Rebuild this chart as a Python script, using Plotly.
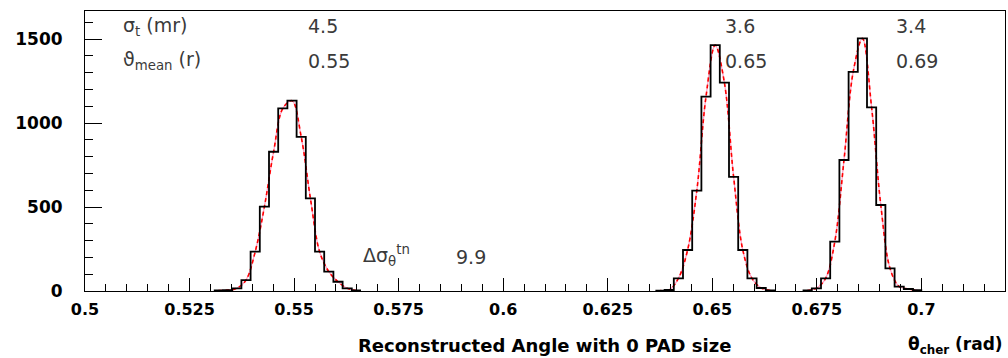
import plotly.graph_objects as go

# ---- data ----
BIN_LO = 0.5
BIN_W = 0.0022

peak1_first_bin = 14
peak1_counts = [3, 5, 16, 65, 234, 502, 829, 1087, 1133, 918, 552, 234, 115, 55, 16, 3]
peak2_first_bin = 62
peak2_counts = [2, 6, 75, 244, 597, 1157, 1464, 1240, 680, 244, 75, 18, 3]
peak3_first_bin = 78
peak3_counts = [3, 16, 75, 294, 780, 1305, 1504, 1093, 512, 135, 26, 12, 5]

sigma_labels = ["4.5", "3.6", "3.4"]
mean_labels = ["0.55", "0.65", "0.69"]
label_x = [0.5529, 0.6526, 0.6935]
delta_sigma_value = "9.9"

x_tick_vals = [0.5, 0.525, 0.55, 0.575, 0.6, 0.625, 0.65, 0.675, 0.7]
x_tick_text = ["0.5", "0.525", "0.55", "0.575", "0.6", "0.625", "0.65", "0.675", "0.7"]
y_tick_vals = [0, 500, 1000, 1500]
y_tick_text = ["0", "500", "1000", "1500"]

X_RANGE = [0.5, 0.72]
Y_RANGE = [0, 1667]

FONT = "DejaVu Sans"

fig = go.Figure()

for first, counts in [(peak1_first_bin, peak1_counts),
                      (peak2_first_bin, peak2_counts),
                      (peak3_first_bin, peak3_counts)]:
    edges = [BIN_LO + (first + i) * BIN_W for i in range(len(counts) + 1)]
    centers = [BIN_LO + (first + i + 0.5) * BIN_W for i in range(len(counts))]
    # fit curve (smooth through bin contents)
    fig.add_trace(go.Scatter(x=centers, y=counts, mode="lines",
                             line=dict(color="#ff9ec4", width=1.2, shape="spline"),
                             hoverinfo="skip", showlegend=False))
    fig.add_trace(go.Scatter(x=centers, y=counts, mode="lines",
                             line=dict(color="#ff0000", width=1.6, dash="4px,3px", shape="spline"),
                             hoverinfo="skip", showlegend=False))
    # histogram
    fig.add_trace(go.Scatter(x=edges, y=counts + [counts[-1]], mode="lines",
                             line=dict(color="black", width=1.8, shape="hv"),
                             showlegend=False))

ann = []
txt_font = dict(family=FONT, size=19, color="#3a3a3a")
ann.append(dict(x=0.5086, y=1575, xref="x", yref="y", text="σ<sub>t</sub> (mr)",
                showarrow=False, xanchor="left", yanchor="middle", font=txt_font))
ann.append(dict(x=0.5086, y=1370, xref="x", yref="y", text="ϑ<sub>mean</sub> (r)",
                showarrow=False, xanchor="left", yanchor="middle", font=txt_font))
for lx, s, m in zip(label_x, sigma_labels, mean_labels):
    ann.append(dict(x=lx, y=1575, xref="x", yref="y", text=s, showarrow=False,
                    xanchor="left", yanchor="middle", font=txt_font))
    ann.append(dict(x=lx, y=1370, xref="x", yref="y", text=m, showarrow=False,
                    xanchor="left", yanchor="middle", font=txt_font))
ann.append(dict(x=0.566, y=214, xref="x", yref="y", text="Δσ<sub>θ</sub><sup>tn</sup>",
                showarrow=False, xanchor="left", yanchor="middle", font=txt_font))
ann.append(dict(x=0.5883, y=205, xref="x", yref="y", text=delta_sigma_value,
                showarrow=False, xanchor="left", yanchor="middle", font=txt_font))
ann.append(dict(x=0.499, y=-0.193, xref="paper", yref="paper",
                text="Reconstructed Angle with 0 PAD size", showarrow=False,
                xanchor="center", yanchor="middle",
                font=dict(family=FONT, size=18, color="black", weight="bold")))
ann.append(dict(x=1.0, y=-0.193, xref="paper", yref="paper",
                text="θ<sub>cher</sub> (rad)", showarrow=False,
                xanchor="right", yanchor="middle",
                font=dict(family=FONT, size=17, color="black", weight="bold")))

fig.update_layout(
    width=1008, height=358,
    margin=dict(l=85, r=3, t=11, b=67),
    paper_bgcolor="white", plot_bgcolor="white",
    annotations=ann,
    showlegend=False,
)
fig.update_xaxes(
    range=X_RANGE, showgrid=False, zeroline=False,
    showline=True, linecolor="black", linewidth=1, mirror=True,
    tickmode="array", tickvals=x_tick_vals, ticktext=x_tick_text,
    ticks="inside", ticklen=13, tickcolor="black", tickwidth=1,
    minor=dict(tickmode="linear", tick0=0.5, dtick=0.005, ticks="inside",
               ticklen=7, tickcolor="black", tickwidth=1),
    tickfont=dict(family=FONT, size=16, color="black", weight="bold"),
    ticklabelstandoff=4,
)
fig.update_yaxes(
    range=Y_RANGE, showgrid=False, zeroline=False,
    showline=True, linecolor="black", linewidth=1, mirror=True,
    tickmode="array", tickvals=y_tick_vals, ticktext=y_tick_text,
    ticks="inside", ticklen=17, tickcolor="black", tickwidth=1,
    minor=dict(tickmode="linear", tick0=0, dtick=100, ticks="inside",
               ticklen=8, tickcolor="black", tickwidth=1),
    tickfont=dict(family=FONT, size=17, color="black", weight="bold"),
    ticklabelstandoff=18,
)

fig.write_html("out.html")
